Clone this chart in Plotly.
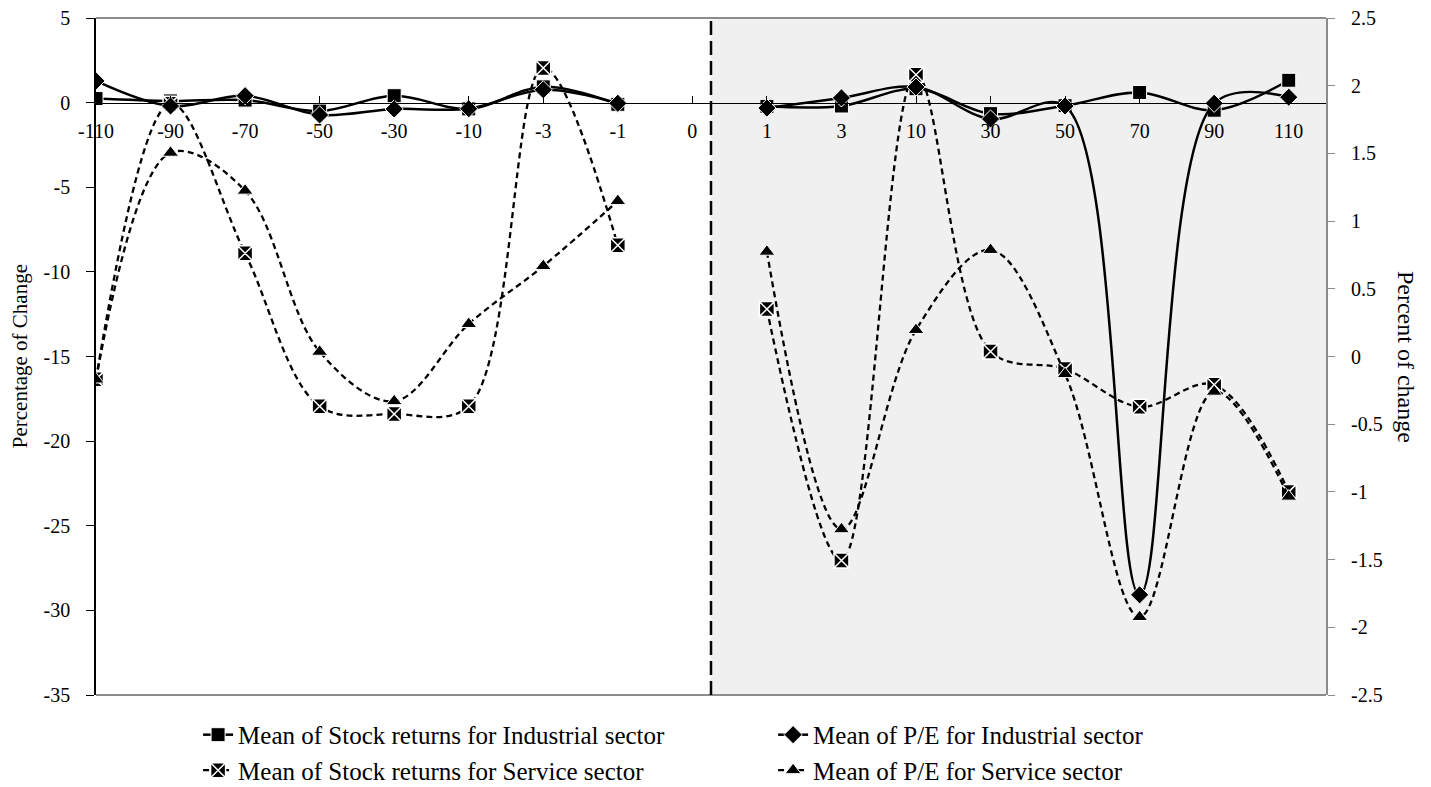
import plotly.graph_objects as go

x_labels = ["-110", "-90", "-70", "-50", "-30", "-10", "-3", "-1", "0",
            "1", "3", "10", "30", "50", "70", "90", "110"]

# Left axis (Percentage of Change)
stock_ind = [0.24, 0.1, 0.15, -0.5, 0.41, -0.37, 0.93, -0.1, None,
             -0.22, -0.2, 0.82, -0.65, -0.18, 0.6, -0.45, 1.32]
stock_svc = [-16.35, -0.06, -8.9, -17.94, -18.4, -17.94, 2.05, -8.43, None,
             -12.2, -27.05, 1.65, -14.7, -15.74, -17.97, -16.67, -23.0]

# Right axis (Percent of change)
pe_ind = [2.035, 1.85, 1.926, 1.784, 1.828, 1.83, 1.97, 1.87, None,
          1.835, 1.91, 1.99, 1.754, 1.85, -1.76, 1.87, 1.915]
pe_svc = [-0.17, 1.505, 1.225, 0.035, -0.33, 0.24, 0.668, 1.148, None,
          0.774, -1.276, 0.196, 0.787, -0.13, -1.924, -0.26, -1.035]

left_ticks = [5, 0, -5, -10, -15, -20, -25, -30, -35]
left_ticktext = ["5", "0", "-5", "-10", "-15", "-20", "-25", "-30", "-35"]
right_ticks = [2.5, 2, 1.5, 1, 0.5, 0, -0.5, -1, -1.5, -2, -2.5]
right_ticktext = ["2.5", "2", "1.5", "1", "0.5", "0", "-0.5", "-1", "-1.5", "-2", "-2.5"]

FONT = "Liberation Serif"

fig = go.Figure()

fig.add_trace(go.Scatter(
    x=x_labels, y=stock_ind, name="Mean of Stock returns for Industrial sector",
    mode="lines+markers", yaxis="y", connectgaps=False,
    line=dict(color="black", width=2.5, shape="spline", smoothing=1),
    marker=dict(symbol="square", size=14, color="black", line=dict(color="white", width=1))))

fig.add_trace(go.Scatter(
    x=x_labels, y=pe_ind, name="Mean of P/E for Industrial sector",
    mode="lines+markers", yaxis="y2", connectgaps=False,
    line=dict(color="black", width=2.5, shape="spline", smoothing=1),
    marker=dict(symbol="diamond", size=14, color="black", line=dict(color="white", width=1))))

fig.add_trace(go.Scatter(
    x=x_labels, y=stock_svc, name="Mean of Stock returns for Service sector",
    mode="lines+markers", yaxis="y", connectgaps=False,
    line=dict(color="black", width=2.3, dash="6px,4px", shape="spline", smoothing=1),
    marker=dict(symbol="square-x", size=15, color="black", line=dict(color="white", width=1.5))))

fig.add_trace(go.Scatter(
    x=x_labels, y=pe_svc, name="Mean of P/E for Service sector",
    mode="lines+markers", yaxis="y2", connectgaps=False,
    line=dict(color="black", width=2.3, dash="6px,4px", shape="spline", smoothing=1),
    marker=dict(symbol="triangle-up", size=14, color="black", line=dict(color="white", width=1))))

fig.update_layout(
    width=1423, height=779,
    margin=dict(l=88, r=105, t=10, b=92, autoexpand=False),
    paper_bgcolor="white", plot_bgcolor="white",
    font=dict(family=FONT, color="black", size=20),
    showlegend=True,
    legend=dict(orientation="h", x=0.083, xanchor="left", y=-0.025, yanchor="top",
                font=dict(size=25, family=FONT), entrywidth=530, entrywidthmode="pixels",
                traceorder="normal", bgcolor="rgba(0,0,0,0)", itemwidth=30),
    xaxis=dict(type="category", range=[0, 16.5], anchor="free", position=0.8744,
               showline=True, linecolor="black", linewidth=1, ticks="inside", ticklen=7,
               tickcolor="black", showgrid=False, zeroline=False, automargin=False,
               tickfont=dict(size=20), ticklabelstandoff=10),
    yaxis=dict(range=[-35, 5], tickvals=left_ticks, ticktext=left_ticktext,
               showline=True, linecolor="black", linewidth=1.5, ticks="outside",
               ticklen=8, tickcolor="black", showgrid=False, zeroline=False, automargin=False,
               tickfont=dict(size=20), ticklabelstandoff=12, ticklabeloverflow="allow"),
    yaxis2=dict(range=[-2.5, 2.5], overlaying="y", side="right",
                tickvals=right_ticks, ticktext=right_ticktext,
                showline=True, linecolor="#8c8c8c", linewidth=2, ticks="outside",
                ticklen=7, tickcolor="#8c8c8c", showgrid=False, zeroline=False, automargin=False,
                tickfont=dict(size=20), ticklabelstandoff=12, ticklabeloverflow="allow"),
    shapes=[
        dict(type="rect", xref="x", yref="paper", x0=8.25, x1=16.5, y0=0, y1=1,
             fillcolor="#f0f0f0", line=dict(width=0), layer="below"),
        dict(type="line", xref="paper", yref="paper", x0=0, x1=1, y0=1, y1=1,
             line=dict(color="#8c8c8c", width=2)),
        dict(type="line", xref="paper", yref="paper", x0=0, x1=1, y0=0, y1=0,
             line=dict(color="#8c8c8c", width=2)),
        dict(type="line", xref="x", yref="paper", x0=8.25, x1=8.25, y0=0, y1=1,
             line=dict(color="black", width=2.5, dash="14px,6px")),
    ],
    annotations=[
        dict(text="Percentage of Change", xref="paper", yref="paper", x=-0.062, y=0.5,
             textangle=-90, showarrow=False, font=dict(size=21, family=FONT),
             xanchor="center", yanchor="middle"),
        dict(text="Percent of change", xref="paper", yref="paper", x=1.0655, y=0.5,
             textangle=90, showarrow=False, font=dict(size=24, family=FONT),
             xanchor="center", yanchor="middle"),
    ],
)

fig.write_html("out.html")
